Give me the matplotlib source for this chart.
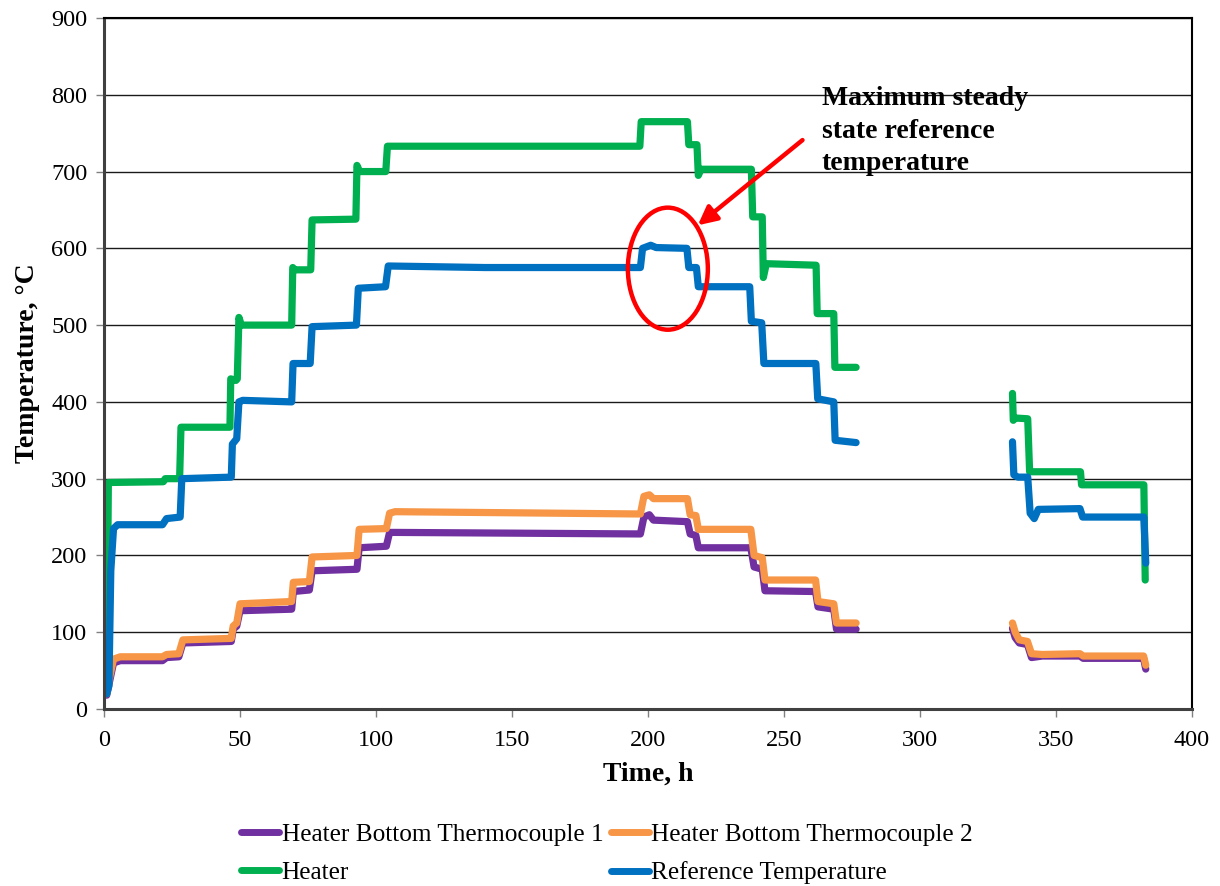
import numpy as np
import matplotlib
matplotlib.use("Agg")
import matplotlib.pyplot as plt
from matplotlib.patches import Ellipse

nan = float("nan")

# ---- Data (time in h, temperature in °C); nan marks the data gap ----
heater_t = [1.0, 1.6, 21.8, 22.5, 27.8, 28.3, 46.3, 46.6, 48.5, 49.0, 49.6, 50.5, 69.0, 69.4, 70.0, 76.0,
            76.5, 92.6, 93.0, 94.0, 103.6, 104.2, 197.0, 197.5, 214.5, 215.0, 218.0, 218.5, 219.5, 238.0,
            238.5, 242.0, 242.4, 243.5, 261.8, 262.2, 268.3, 268.7, 276.5, nan,
            334.0, 334.3, 335.0, 339.6, 340.3, 359.0, 359.4, 382.3, 382.8]
heater_v = [20, 295, 296, 300, 300, 367, 367, 430, 428, 430, 510, 500, 500, 575, 572, 572,
            637, 638, 708, 700, 700, 733, 733, 765, 765, 735, 735, 695, 703, 703,
            641, 641, 562, 580, 578, 515, 515, 445, 445, nan,
            411, 376, 379, 378, 309, 309, 292, 292, 168]

ref_t = [1.0, 1.8, 2.5, 3.5, 5.0, 21.5, 23.0, 28.0, 28.6, 46.8, 47.2, 48.8, 49.6, 51.0, 69.0, 69.5,
         75.8, 76.5, 92.8, 93.5, 103.5, 104.5, 140.0, 197.2, 198.0, 201.0, 203.0, 214.3, 215.0, 217.8,
         218.5, 237.4, 238.0, 241.8, 242.6, 261.7, 262.4, 268.3, 268.8, 276.5, nan,
         334.0, 334.5, 336.0, 339.6, 340.5, 342.0, 343.5, 358.8, 359.8, 382.3, 383.0]
ref_v = [20, 30, 180, 235, 240, 240, 248, 250, 300, 302, 345, 352, 400, 402, 400, 450,
         450, 498, 500, 548, 550, 577, 575, 575, 600, 604, 601, 600, 575, 575,
         550, 550, 505, 503, 450, 450, 404, 400, 350, 347, nan,
         348, 305, 302, 302, 255, 248, 260, 261, 250, 250, 190]

tc2_t = [1.0, 2.0, 3.5, 6.0, 21.5, 23.0, 27.5, 29.0, 46.8, 47.5, 48.8, 50.0, 69.0, 69.6, 75.5, 76.5,
         93.0, 93.8, 103.8, 105.0, 107.0, 197.2, 198.5, 200.5, 202.0, 214.5, 215.5, 217.6, 218.5, 237.8,
         239.0, 242.0, 243.0, 261.6, 262.5, 268.3, 269.3, 276.5, nan,
         334.0, 335.0, 336.5, 339.5, 341.0, 345.0, 358.8, 360.0, 382.2, 383.0]
tc2_v = [20, 40, 65, 68, 68, 71, 72, 90, 92, 108, 112, 137, 140, 165, 166, 198,
         200, 234, 235, 255, 257, 254, 277, 279, 274, 274, 253, 252, 234, 234,
         200, 197, 168, 168, 140, 137, 112, 112, nan,
         112, 100, 90, 88, 72, 71, 72, 69, 69, 57]

tc1_t = [1.0, 2.0, 3.5, 6.0, 21.5, 23.0, 27.5, 29.0, 46.8, 47.5, 48.8, 50.0, 69.0, 69.6, 75.5, 76.5,
         93.0, 93.8, 103.8, 105.0, 107.0, 197.2, 198.5, 200.5, 202.0, 214.5, 215.5, 217.6, 218.5, 237.8,
         239.0, 242.0, 243.0, 261.6, 262.5, 268.3, 269.3, 276.5, nan,
         334.0, 335.0, 336.5, 339.5, 341.0, 345.0, 358.8, 360.0, 382.2, 383.0]
tc1_v = [18, 35, 60, 63, 63, 67, 68, 86, 88, 104, 108, 128, 130, 153, 155, 180,
         182, 210, 212, 230, 230, 228, 250, 253, 246, 244, 228, 226, 210, 210,
         185, 182, 154, 153, 133, 130, 104, 104, nan,
         105, 93, 86, 84, 67, 69, 69, 66, 66, 52]

labels = ["Heater Bottom Thermocouple 1", "Heater Bottom Thermocouple 2", "Heater", "Reference Temperature"]
colors = ["#7030A0", "#F79646", "#00B050", "#0070C0"]

x_ticks = [0, 50, 100, 150, 200, 250, 300, 350, 400]
y_ticks = [0, 100, 200, 300, 400, 500, 600, 700, 800, 900]

annot_text = "Maximum steady\nstate reference\ntemperature"

# ---- Figure ----
plt.rcParams['font.family'] = ['Liberation Serif', 'DejaVu Serif']
fig = plt.figure(figsize=(12.2, 8.86), dpi=100)
ax = fig.add_axes([104/1220, 1-709/886, (1192-104)/1220, (709-18)/886])

lw = 5.2
kw = dict(lw=lw, solid_capstyle='round', solid_joinstyle='round')
l1, = ax.plot(tc1_t, tc1_v, color=colors[0], label=labels[0], **kw)
l2, = ax.plot(tc2_t, tc2_v, color=colors[1], label=labels[1], **kw)
l3, = ax.plot(heater_t, heater_v, color=colors[2], label=labels[2], **kw)
l4, = ax.plot(ref_t, ref_v, color=colors[3], label=labels[3], **kw)

ax.set_xlim(0, 400)
ax.set_ylim(0, 900)
ax.set_xticks(x_ticks)
ax.set_yticks(y_ticks)
ax.tick_params(axis='both', labelsize=17.5, length=6, width=1, color='#808080', direction='out', pad=6)
ax.tick_params(axis='x', pad=9)
ax.grid(axis='y', color='#1a1a1a', lw=1.0)
ax.set_axisbelow(True)

for s in ['top', 'right']:
    ax.spines[s].set_color('black')
    ax.spines[s].set_linewidth(1.5)
for s in ['left', 'bottom']:
    ax.spines[s].set_color('#404040')
    ax.spines[s].set_linewidth(2.2)

ax.set_xlabel("Time, h", fontsize=20, fontweight='bold', labelpad=8)
ax.set_ylabel("Temperature, °C", fontsize=20, fontweight='bold', labelpad=8)

# Annotation: ellipse, arrow, text
ell = Ellipse((207.3, 573.5), width=29.4, height=159, fill=False, edgecolor='#FF0000', lw=3.2, zorder=5)
ax.add_patch(ell)
ax.annotate("", xy=(218.3, 630), xytext=(256.8, 741),
            arrowprops=dict(arrowstyle='-|>', color='#FF0000', lw=3.2, mutation_scale=28,
                            shrinkA=0, shrinkB=0), zorder=6)
ax.text(263.8, 811, annot_text, fontsize=20, fontweight='bold', ha='left', va='top',
        linespacing=1.38, zorder=6)

handles = [l1, l2, l3, l4]
order = [0, 2, 1, 3]
leg = fig.legend(handles=[handles[i] for i in order], labels=[labels[i] for i in order], ncol=2,
                 loc='center', bbox_to_anchor=(607/1220, 1-854/886), frameon=False, fontsize=18.2,
                 handlelength=1.5, handletextpad=0.1, columnspacing=0.3, labelspacing=0.6,
                 borderpad=0)
for h in leg.get_lines():
    h.set_linewidth(5)

fig.savefig("out.png", dpi=100)
